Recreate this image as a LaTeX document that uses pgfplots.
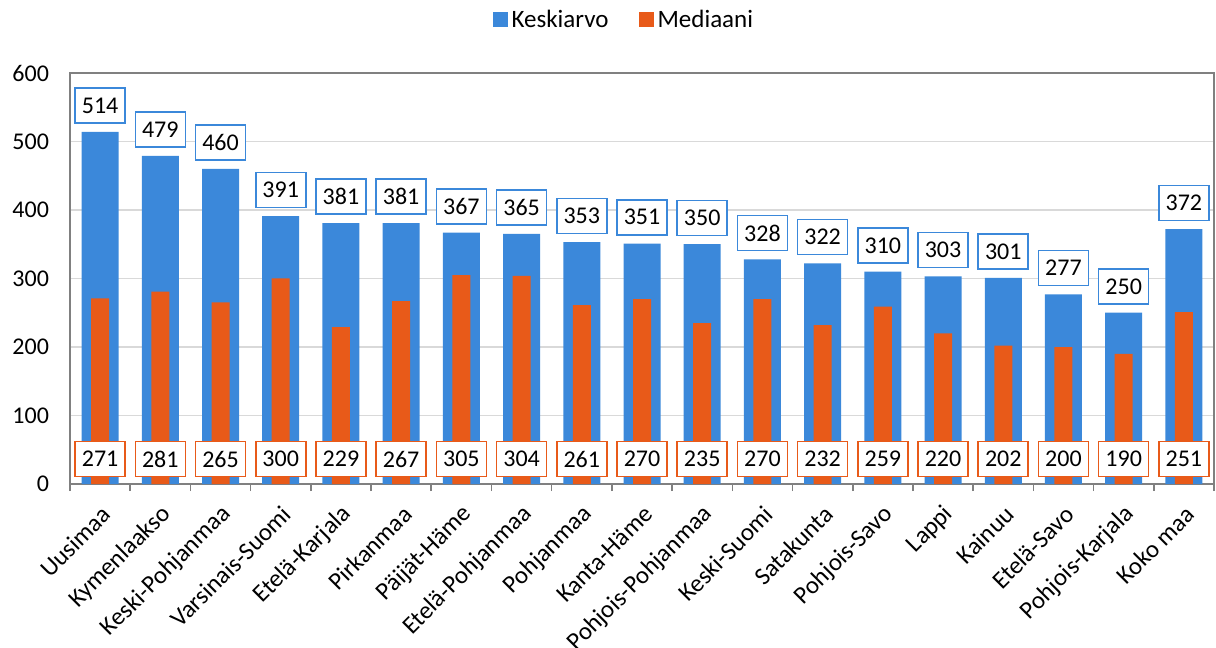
\documentclass[border=0pt]{standalone}
\usepackage{pgfplots}
\pgfplotsset{compat=1.18}
\usepackage{fontspec}
\setmainfont{Carlito}
\definecolor{blueC}{RGB}{59,136,218}
\definecolor{orangeC}{RGB}{232,90,25}
\definecolor{gridC}{RGB}{217,217,217}
\definecolor{axC}{RGB}{128,128,128}
\begin{document}
\begin{tikzpicture}
\path[use as bounding box] (-35pt,-82pt) rectangle (573pt,242pt);
\begin{axis}[
  at={(0,0)}, anchor=south west,
  scale only axis, width=572pt, height=205.5pt,
  xmin=-0.5, xmax=18.5, ymin=0, ymax=600,
  ytick={0,100,...,600},
  xtick={0,...,18},
  xticklabels={Uusimaa,Kymenlaakso,Keski-Pohjanmaa,Varsinais-Suomi,Etelä-Karjala,Pirkanmaa,Päijät-Häme,Etelä-Pohjanmaa,Pohjanmaa,Kanta-Häme,Pohjois-Pohjanmaa,Keski-Suomi,Satakunta,Pohjois-Savo,Lappi,Kainuu,Etelä-Savo,Pohjois-Karjala,Koko maa},
  minor xtick={-0.5,0.5,...,18.5},
  major tick length=0pt, minor tick length=3.5pt, tick align=outside,
  tick pos=left,
  minor tick style={axC, line width=0.8pt},
  ymajorgrids, grid style={gridC, line width=0.8pt},
  axis line style={axC, line width=0.9pt},
  /pgf/number format/assume math mode=true,
  yticklabel style={font=\fontsize{12}{14}\selectfont, black, xshift=-7pt},
  xticklabel style={font=\fontsize{12.4}{14}\selectfont, black, rotate=45, anchor=east, xshift=-3.6pt, yshift=-11.6pt},
  legend style={at={(0.485,1)}, anchor=center, yshift=26.5pt, draw=none, fill=none,
    legend columns=2, font=\fontsize{12.5}{14}\selectfont,
    /tikz/every even column/.append style={column sep=13pt}},
  legend image code/.code={\fill[#1] (0pt,-3.6pt) rectangle (7.5pt,3.9pt);},
  clip=false,
]
\addplot[ybar, bar width=18.5pt, bar shift=0pt, fill=blueC, draw=none,
  nodes near coords,
  every node near coord/.append style={anchor=south, yshift=4pt, draw=blueC, fill=white,
    line width=0.8pt, minimum width=25pt, minimum height=17.5pt, inner sep=1pt,
    font=\fontsize{12}{14}\selectfont, text=black},
] coordinates {
(0,514) (1,479) (2,460) (3,391) (4,381) (5,381) (6,367) (7,365) (8,353) (9,351)
(10,350) (11,328) (12,322) (13,310) (14,303) (15,301) (16,277) (17,250) (18,372)
};
\addlegendentry{Keskiarvo}
\addplot[ybar, bar width=9pt, bar shift=0pt, fill=orangeC, draw=none,
  nodes near coords,
  visualization depends on={y \as \rawy},
  every node near coord/.append style={anchor=center, draw=orangeC, fill=white,
    line width=0.8pt, minimum width=25pt, minimum height=17.5pt, inner sep=1pt,
    font=\fontsize{12}{14}\selectfont, text=black,
    shift={(axis direction cs:0,{36.5-\rawy})}},
] coordinates {
(0,271) (1,281) (2,265) (3,300) (4,229) (5,267) (6,305) (7,304) (8,261) (9,270)
(10,235) (11,270) (12,232) (13,259) (14,220) (15,202) (16,200) (17,190) (18,251)
};
\addlegendentry{Mediaani}
\end{axis}
\end{tikzpicture}
\end{document}
